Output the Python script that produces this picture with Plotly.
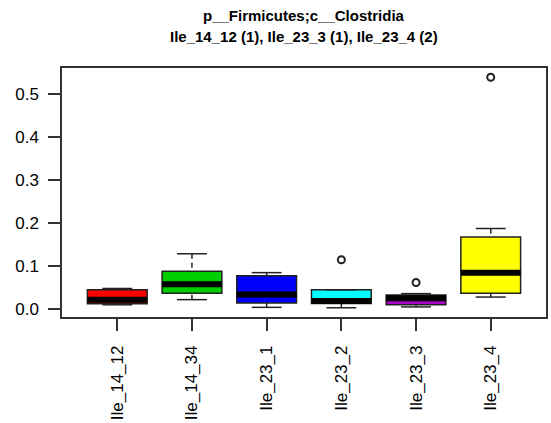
import plotly.graph_objects as go

# Relative abundance of p__Firmicutes;c__Clostridia per sample group
groups = ["Ile_14_12", "Ile_14_34", "Ile_23_1", "Ile_23_2", "Ile_23_3", "Ile_23_4"]
colors = ["#FF0000", "#00CD00", "#0000FF", "#00FFFF", "#A800C8", "#FFFF00"]

lower_whisker = [0.009, 0.021, 0.003, 0.002, 0.004, 0.027]
q1 = [0.0115, 0.036, 0.013, 0.012, 0.009, 0.036]
median = [0.021, 0.057, 0.033, 0.018, 0.024, 0.084]
q3 = [0.044, 0.087, 0.077, 0.044, 0.032, 0.167]
upper_whisker = [0.047, 0.128, 0.084, 0.044, 0.035, 0.187]

outlier_groups = ["Ile_23_2", "Ile_23_3", "Ile_23_4"]
outlier_values = [0.114, 0.061, 0.540]

y_ticks = [0.0, 0.1, 0.2, 0.3, 0.4, 0.5]

BOX_W = 0.8
CAP_W = BOX_W / 2
INK = "#222222"
positions = list(range(1, len(groups) + 1))
pos_of = dict(zip(groups, positions))

fig = go.Figure()

# dashed whiskers, drawn from the whisker end toward the box
wx, wy = [], []
for p, lo, a, b, hi in zip(positions, lower_whisker, q1, q3, upper_whisker):
    wx += [p, p, None, p, p, None]
    wy += [hi, b, None, lo, a, None]
fig.add_trace(go.Scatter(x=wx, y=wy, mode="lines",
                         line=dict(color=INK, width=1.5, dash="5px,4px"),
                         hoverinfo="skip", showlegend=False))

# solid whisker caps
cx, cy = [], []
for p, lo, hi in zip(positions, lower_whisker, upper_whisker):
    for v in (lo, hi):
        cx += [p - CAP_W / 2, p + CAP_W / 2, None]
        cy += [v, v, None]
fig.add_trace(go.Scatter(x=cx, y=cy, mode="lines",
                         line=dict(color=INK, width=1.5),
                         hoverinfo="skip", showlegend=False))

# boxes (hinges only)
for p, c, a, m, b in zip(positions, colors, q1, median, q3):
    fig.add_trace(go.Box(
        x=[p], q1=[a], median=[m], q3=[b], lowerfence=[a], upperfence=[b],
        width=BOX_W, whiskerwidth=0, fillcolor=c,
        line=dict(color=INK, width=1.5),
        boxpoints=False, hoverinfo="skip", showlegend=False,
    ))

# thick median bars
mx, my = [], []
for p, m in zip(positions, median):
    mx += [p - BOX_W / 2, p + BOX_W / 2, None]
    my += [m, m, None]
fig.add_trace(go.Scatter(x=mx, y=my, mode="lines",
                         line=dict(color="black", width=6),
                         hoverinfo="skip", showlegend=False))

fig.add_trace(go.Scatter(
    x=[pos_of[g] for g in outlier_groups], y=outlier_values, mode="markers",
    marker=dict(symbol="circle-open", size=7, color=INK, line=dict(width=2)),
    hoverinfo="skip", showlegend=False,
))

all_vals = lower_whisker + upper_whisker + outlier_values
lo_v, hi_v = min(all_vals), max(all_vals)
pad = 0.04 * (hi_v - lo_v)
n = len(groups)
xpad = 0.04 * n

font = dict(family="Liberation Sans, Arial, sans-serif", size=17, color="black")
title_font = dict(family="Liberation Sans, Arial, sans-serif", size=15, color="black")

fig.update_layout(
    width=551, height=423,
    margin=dict(l=62, r=3, t=68, b=103),
    paper_bgcolor="white", plot_bgcolor="white",
    xaxis=dict(
        range=[0.5 - xpad, n + 0.5 + xpad],
        tickvals=positions, ticktext=groups, tickangle=-90,
        showgrid=False, zeroline=False,
        showline=True, mirror=True, linecolor="#333333", linewidth=1.5,
        ticks="outside", ticklen=12, tickwidth=1.5, tickcolor="#333333",
        tickfont=font, ticklabelstandoff=8,
    ),
    yaxis=dict(
        range=[lo_v - pad, hi_v + pad],
        tickvals=y_ticks, ticktext=[f"{v:.1f}" for v in y_ticks],
        showgrid=False, zeroline=False,
        showline=True, mirror=True, linecolor="#333333", linewidth=1.5,
        ticks="outside", ticklen=12, tickwidth=1.5, tickcolor="#333333",
        tickfont=font, ticklabelstandoff=6,
    ),
)

# two-line bold main title
fig.add_annotation(text="<b>p__Firmicutes;c__Clostridia</b>", xref="paper", yref="paper",
                   x=0.5, y=1, yshift=53, xanchor="center", yanchor="middle",
                   showarrow=False, font=title_font)
fig.add_annotation(text="<b>Ile_14_12 (1), Ile_23_3 (1), Ile_23_4 (2)</b>", xref="paper", yref="paper",
                   x=0.5, y=1, yshift=32, xanchor="center", yanchor="middle",
                   showarrow=False, font=title_font)

fig.write_html("out.html")
